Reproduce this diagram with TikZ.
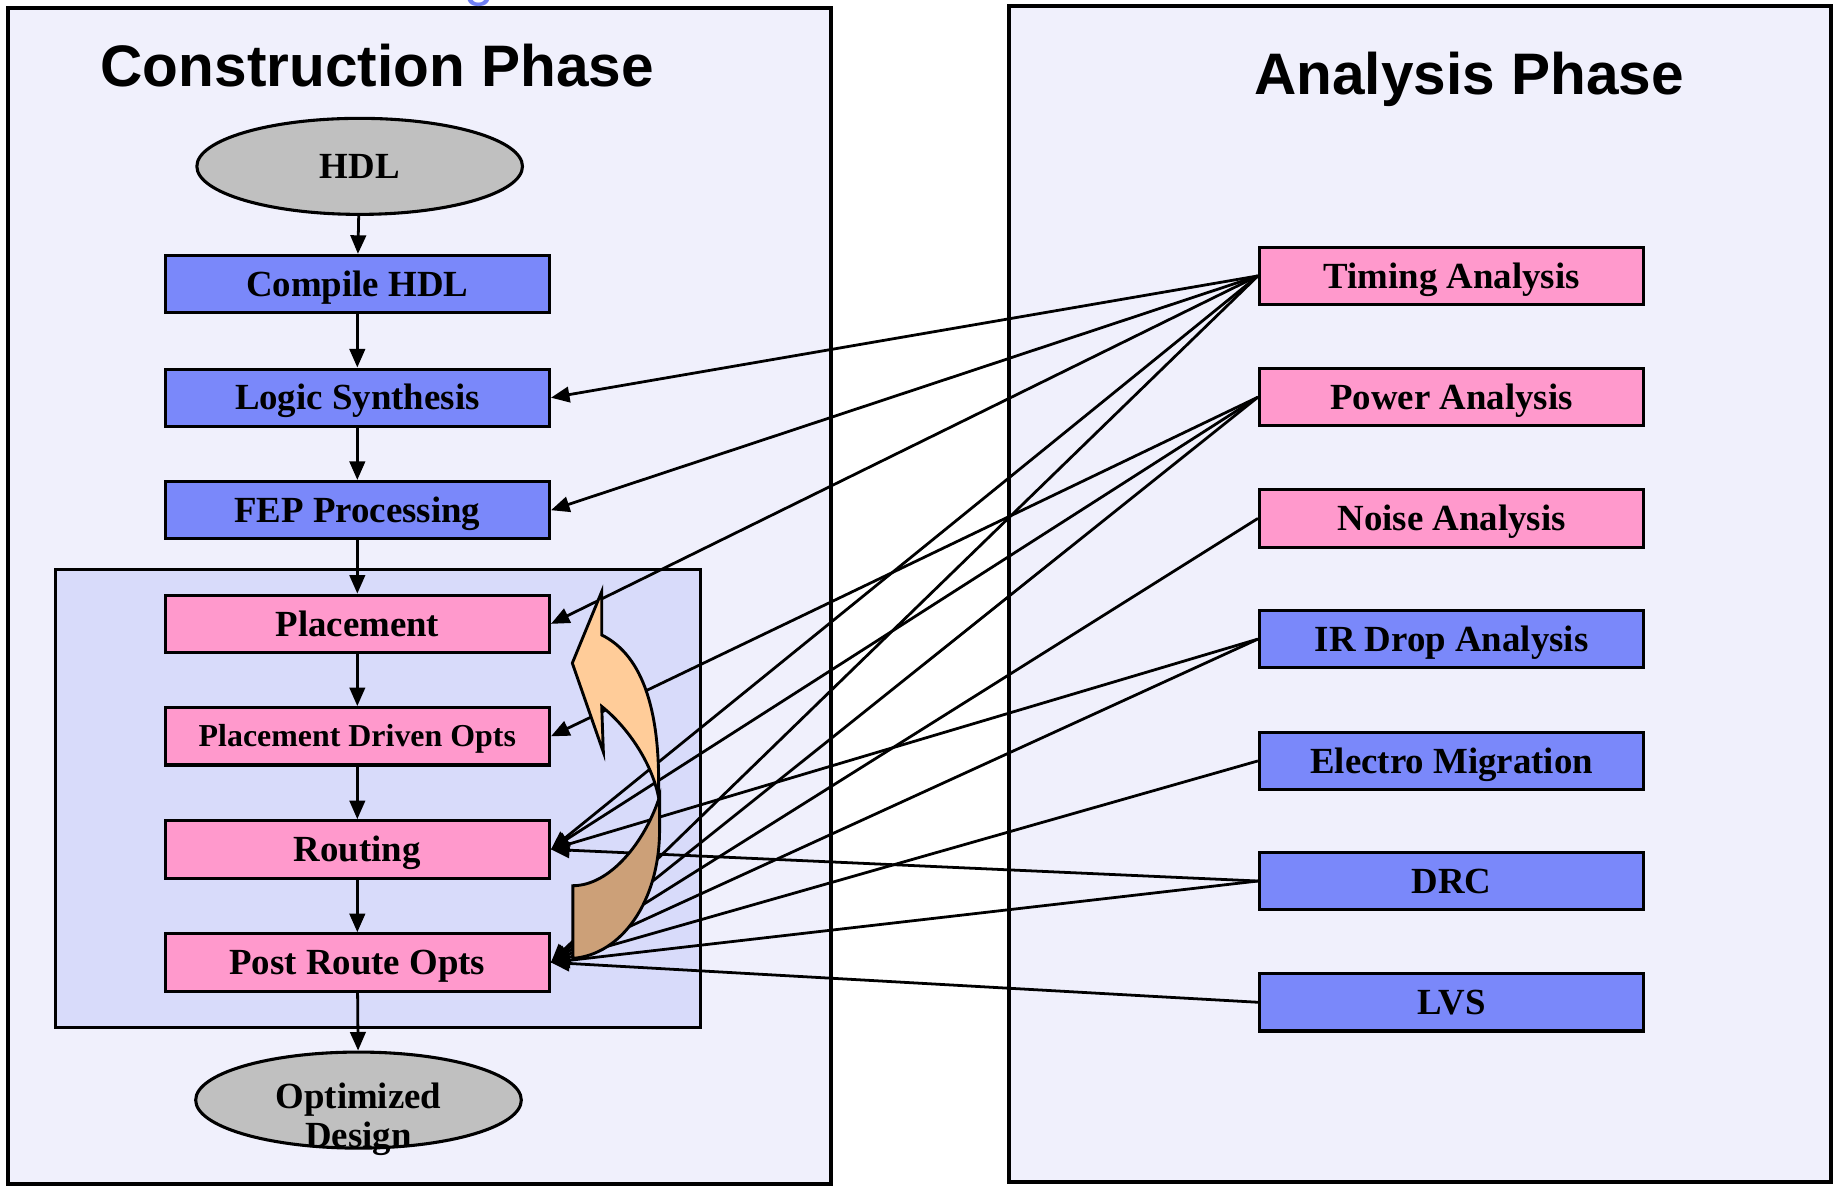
\documentclass[tikz,border=0pt]{standalone}
\usepackage{fontspec}
\setmainfont{Liberation Serif}
\newfontfamily\titlefont{Liberation Sans}
\usetikzlibrary{shapes.geometric,arrows.meta}

\definecolor{panelbg}{RGB}{240,240,252}
\definecolor{innerbg}{RGB}{216,219,250}
\definecolor{boxblue}{RGB}{122,136,250}
\definecolor{boxpink}{RGB}{255,153,204}
\definecolor{ovalgray}{RGB}{192,192,192}
\definecolor{arrorange}{RGB}{255,204,153}
\definecolor{arrtan}{RGB}{204,160,120}
\definecolor{topblue}{RGB}{112,128,245}

\begin{document}
\begin{tikzpicture}[x=0.02cm,y=-0.02cm,
  panel/.style={draw=black,line width=1.9pt,fill=panelbg},
  stage/.style={draw=black,line width=1.5pt,minimum width=6.56cm,minimum height=0.98cm,inner sep=0pt,
    font=\fontsize{17.9}{20}\selectfont\bfseries,text height=11.9pt,text depth=0pt},
  smallstage/.style={font=\fontsize{15.5}{18}\selectfont\bfseries,text height=10.3pt,text depth=0pt},
  bluebox/.style={stage,fill=boxblue},
  pinkbox/.style={stage,fill=boxpink},
  oval/.style={ellipse,draw=black,line width=1.5pt,fill=ovalgray,minimum width=5.56cm,minimum height=1.64cm,
    inner sep=0pt,font=\fontsize{17.9}{20}\selectfont\bfseries,text height=11.9pt,text depth=0pt},
  flow/.style={line width=1.35pt,-{Triangle[length=9pt,width=7.5pt]}},
  phasetitle/.style={font=\titlefont\fontsize{28.45}{32}\selectfont\bfseries,text height=20.4pt,text depth=0pt,inner sep=0pt},
  blockarrow/.style={draw=black,line width=1.4pt,line join=miter}
]
\fill[white] (0,0) rectangle (1568,1013);
\useasboundingbox (0,0) rectangle (1568,1013);

% panels
\draw[panel] (7,7) rectangle (709,1011);
\draw[panel] (861,5) rectangle (1563,1009);
\draw[draw=black,line width=1.5pt,fill=innerbg] (47,486) rectangle (598,877);

% cut-off text at the top
\node[font=\titlefont\fontsize{26}{26}\selectfont,text=topblue,anchor=base,inner sep=0pt] (topg) at (409,-4) {g};

% titles
\node[phasetitle] (ctitle) at (322,56) {Construction Phase};
\node[phasetitle] (atitle) at (1254,63) {Analysis Phase};

% construction flow
\node[oval] (hdl) at (307,142) {HDL};
\node[bluebox] (compile) at (305,242.5) {Compile HDL};
\node[bluebox] (logic) at (305,339.5) {Logic Synthesis};
\node[bluebox] (fep) at (305,435.5) {FEP Processing};
\node[pinkbox] (place) at (305,532.5) {Placement};
\node[pinkbox,smallstage] (pdo) at (305,628.5) {Placement Driven Opts};
\node[pinkbox] (route) at (305,725) {Routing};
\node[pinkbox] (post) at (305,821.5) {Post Route Opts};
\node[oval] (opt) at (306,939) {};
\node[font=\fontsize{17.9}{19.1}\selectfont\bfseries,align=center,inner sep=0pt] (optlbl) at (306,955.5) {Optimized\\Design};

% analysis boxes
\node[pinkbox] (timing) at (1239,235.5) {Timing Analysis};
\node[pinkbox] (power) at (1239,339) {Power Analysis};
\node[pinkbox] (noise) at (1239,442.5) {Noise Analysis};
\node[bluebox] (irdrop) at (1239,545.5) {IR Drop Analysis};
\node[bluebox] (em) at (1239,649.5) {Electro Migration};
\node[bluebox] (drc) at (1239,752) {DRC};
\node[bluebox] (lvs) at (1239,855.5) {LVS};

% vertical flow
\draw[flow] (hdl) -- (compile);
\draw[flow] (compile) -- (logic);
\draw[flow] (logic) -- (fep);
\draw[flow] (fep) -- (place);
\draw[flow] (place) -- (pdo);
\draw[flow] (pdo) -- (route);
\draw[flow] (route) -- (post);
\draw[flow] (post) -- (opt);

% analysis connectors
\draw[flow] (timing.west) -- (logic.east);
\draw[flow] (timing.west) -- (fep.east);
\draw[flow] (timing.west) -- (place.east);
\draw[flow] (timing.west) -- (route.east);
\draw[flow] (timing.west) -- (post.east);
\draw[flow] (power.west) -- (pdo.east);
\draw[flow] (power.west) -- (route.east);
\draw[flow] (power.west) -- (post.east);
\draw[flow] (noise.west) -- (post.east);
\draw[flow] (irdrop.west) -- (route.east);
\draw[flow] (irdrop.west) -- (post.east);
\draw[flow] (em.west) -- (post.east);
\draw[flow] (drc.west) -- (route.east);
\draw[flow] (drc.west) -- (post.east);
\draw[flow] (lvs.west) -- (post.east);

% curved block arrow (iteration)
\draw[blockarrow,fill=arrtan] (489,756) -- (489,818)
  .. controls (530,815) and (563,770) .. (563,708)
  -- (563,680)
  .. controls (550,720) and (520,756) .. (489,756) -- cycle;
\draw[blockarrow,fill=arrorange] (513.6,505) -- (488.5,566) -- (515,642) -- (513.6,603)
  .. controls (535,620) and (556,650) .. (562,680)
  .. controls (564,610) and (550,560) .. (513.6,542) -- cycle;
\end{tikzpicture}
\end{document}
